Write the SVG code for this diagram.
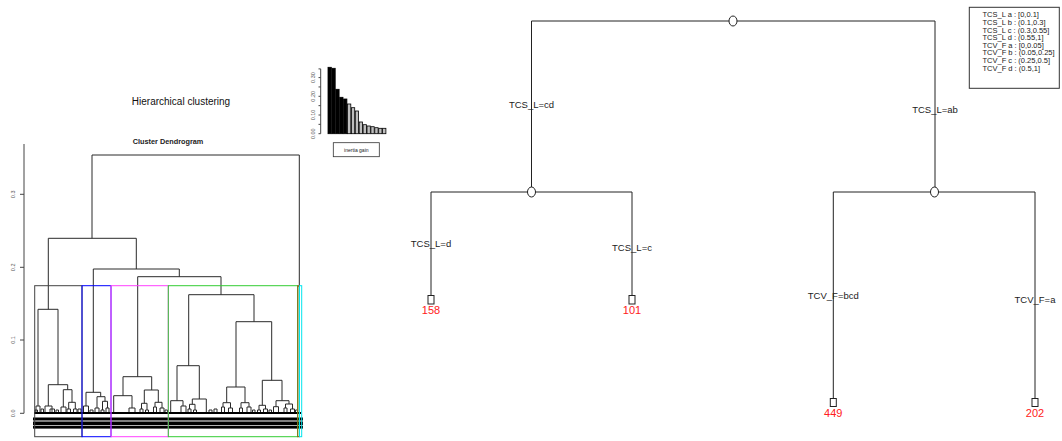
<svg xmlns="http://www.w3.org/2000/svg" width="1062" height="441" viewBox="0 0 1062 441">
<style>
text{font-family:"Liberation Sans",Arial,sans-serif;}
.ln{fill:none;stroke:#222;stroke-width:1;}
.dl{fill:none;stroke:#2a2a2a;stroke-width:1;}
.ax{fill:none;stroke:#444;stroke-width:1;}
.tk{font-size:5.5px;fill:#555;}
.el{font-size:9.5px;fill:#222;text-anchor:middle;}
.lf{font-size:11px;fill:#ff2020;text-anchor:middle;}
.lg{font-size:7.5px;fill:#222;}
.node{fill:#fff;stroke:#222;stroke-width:1;}
</style>
<rect width="1062" height="441" fill="#fff"/>

<g id="left-panel">
<text x="181" y="105" font-size="10" text-anchor="middle" fill="#111">Hierarchical clustering</text>
<text x="168" y="143.5" font-size="7.3" font-weight="bold" text-anchor="middle" fill="#222">Cluster Dendrogram</text>
<g id="dendro-axis">
<path class="ax" d="M24 144V413.3M24 413.3H20M24 340H20M24 267.3H20M24 194.3H20"/>
<text class="tk" transform="translate(15,413.3) rotate(-90)" text-anchor="middle">0.0</text>
<text class="tk" transform="translate(15,340) rotate(-90)" text-anchor="middle">0.1</text>
<text class="tk" transform="translate(15,267.3) rotate(-90)" text-anchor="middle">0.2</text>
<text class="tk" transform="translate(15,194.3) rotate(-90)" text-anchor="middle">0.3</text>
</g>
<g id="dendrogram">
<path class="dl" d="M92 238.3V155H299.3V413
M48.3 309.3V238.3H136.3V269
M93.3 392.3V269H179.3V276.7
M137.7 376.7V276.7H221V294.7
M188.7 365.7V294.7H254V321.7
M236 387V321.7H271.7V380.3
M38 406V309.3H58V384.7
M48.3 406V384.7H67.7V389.7
M63.3 407V389.7H72V402.3
M86 406V392.3H100.7V396.7
M97 408V396.7H105V401.3
M123 395.7V376.7H151.7V390
M113.7 413V395.7H132V408
M144.3 403.3V390H158.3V402.3
M177 400.7V365.7H199.3V399
M170.7 413V400.7H183V406
M192.3 404.3V399H206.3V413
M226.7 402.7V387H245V402.7
M262.3 405.3V380.3H282V400.7M276 406.7V400.7H289V404
M36 413V406H40V413M35 413V410H37.5V413M41 413V409H43.5V413
M45 413V406H52V413M50 413V409H54.5V413M56 413V410H58.5V413
M61 413V407H66V413M68.7 409V402.3H75.3V409M67 413V409H70.5V413M73.5 413V409H77V413M78 413V409H81V413
M83.5 413V406H88.5V413M90 413V410H93V413M95 413V408H99V413
M102.5 410V401.3H107.5V408M101 413V410H104V413M106 413V408H109V413
M129 413V408H135V413
M141.5 409V403.3H147V410M140 413V409H143V413M145.5 413V410H148.5V413
M155 407V402.3H162V408M153.5 413V407H156.5V413M160 413V408H164V413M165 413V410H167.5V413
M181 413V406H186V413
M189.5 409V404.3H195V410M188 413V409H191V413M193.5 413V410H196.5V413
M209 413V410H212V413M214 413V409H217V413
M223 407V402.7H230.5V408M221.5 413V407H224.5V413M228.5 413V408H232.5V413
M241 408V402.7H249V407M239.5 413V408H242.5V413M247 413V407H251V413M252.5 413V410H255V413
M259 410V405.3H265.5V409M257.5 413V410H260.5V413M263.5 413V409H267.5V413M269 413V410H271.5V413
M273.5 413V406.7H278.5V413
M285.5 408V404H292.5V409M284 413V408H287V413M290.5 413V409H294.5V413M295.5 413V410H297.5V413"/>
<path d="M34 413H301" stroke="#000" stroke-width="2"/>
<rect x="33" y="417.5" width="270" height="3" fill="#000"/>
<rect x="33" y="421.5" width="270" height="3.8" fill="#000"/>
<rect x="33" y="426" width="270" height="2.6" fill="#000"/>
</g>
<g id="cluster-boxes" fill="none" stroke-width="1">
<rect x="34.7" y="285.7" width="47.3" height="151" stroke="#444"/>
<rect x="82" y="285.7" width="29" height="151" stroke="#0000ff"/>
<rect x="111" y="285.7" width="57.3" height="151" stroke="#ff40ff"/>
<rect x="168.3" y="285.7" width="129.4" height="151" stroke="#33cc33"/>
<rect x="297.7" y="285.7" width="1.8" height="151" stroke="#8b6914"/>
<rect x="299.5" y="285.7" width="2.2" height="151" stroke="#00e5ee"/>
</g>
<g id="inertia-gain">
<path class="ax" d="M320.7 68.9V133.7M320.7 133.7H318.5M320.7 124.35H318.5M320.7 115H318.5M320.7 105.65H318.5M320.7 96.3H318.5M320.7 86.95H318.5M320.7 77.6H318.5M320.7 68.9H318.5"/>
<text class="tk" transform="translate(315,133.7) rotate(-90)" text-anchor="middle">0.00</text>
<text class="tk" transform="translate(315,115) rotate(-90)" text-anchor="middle">0.10</text>
<text class="tk" transform="translate(315,96.3) rotate(-90)" text-anchor="middle">0.20</text>
<text class="tk" transform="translate(315,77.6) rotate(-90)" text-anchor="middle">0.30</text>
<g stroke="#000" stroke-width="0.8">
<rect x="328" y="67.3" width="3.3" height="66.4" fill="#000"/>
<rect x="331.9" y="68.3" width="3.3" height="65.4" fill="#000"/>
<rect x="335.8" y="89.3" width="3.3" height="44.4" fill="#000"/>
<rect x="339.7" y="97.3" width="3.3" height="36.4" fill="#000"/>
<rect x="343.6" y="99" width="3.3" height="34.7" fill="#000"/>
<rect x="347.5" y="104" width="3.3" height="29.7" fill="#bebebe"/>
<rect x="351.4" y="107.7" width="3.3" height="26" fill="#bebebe"/>
<rect x="355.3" y="111" width="3.3" height="22.7" fill="#bebebe"/>
<rect x="359.2" y="122" width="3.3" height="11.7" fill="#bebebe"/>
<rect x="363.1" y="124.7" width="3.3" height="9" fill="#bebebe"/>
<rect x="367" y="126" width="3.3" height="7.7" fill="#bebebe"/>
<rect x="370.9" y="126.7" width="3.3" height="7" fill="#bebebe"/>
<rect x="374.8" y="127.7" width="3.3" height="6" fill="#bebebe"/>
<rect x="378.7" y="128.3" width="3.3" height="5.4" fill="#bebebe"/>
<rect x="382.6" y="128.3" width="3.3" height="5.4" fill="#bebebe"/>
</g>
<rect x="333.3" y="142.7" width="46" height="14" fill="#fff" stroke="#333" stroke-width="0.8"/>
<text x="356.3" y="151.8" font-size="5" text-anchor="middle" fill="#222">inertia gain</text>
</g>
</g>

<g id="connectors">
<path class="ln" d="M531.5 192V21H935V192"/>
<path class="ln" d="M431 295.5V192H632V295.5"/>
<path class="ln" d="M833.3 398.5V192H1035V398.5"/>
</g>

<g id="node-root"><ellipse class="node" cx="733" cy="21" rx="4" ry="5"/></g>
<g id="node-left"><ellipse class="node" cx="531.5" cy="192" rx="4" ry="5"/></g>
<g id="node-right"><ellipse class="node" cx="934.5" cy="192" rx="4" ry="5"/></g>

<g id="edge-labels">
<text class="el" x="531.5" y="107.5">TCS_L=cd</text>
<text class="el" x="935" y="113">TCS_L=ab</text>
<text class="el" x="431" y="247">TCS_L=d</text>
<text class="el" x="632" y="251">TCS_L=c</text>
<text class="el" x="833.3" y="299">TCV_F=bcd</text>
<text class="el" x="1035" y="303">TCV_F=a</text>
</g>

<g id="leaf-158"><rect x="428" y="295.5" width="6" height="8.5" fill="#fff" stroke="#222"/><text class="lf" x="431" y="314">158</text></g>
<g id="leaf-101"><rect x="629" y="295.5" width="6" height="8.5" fill="#fff" stroke="#222"/><text class="lf" x="632" y="314">101</text></g>
<g id="leaf-449"><rect x="830.3" y="398.5" width="6" height="8" fill="#fff" stroke="#222"/><text class="lf" x="833.3" y="417">449</text></g>
<g id="leaf-202"><rect x="1032" y="398.5" width="6" height="8" fill="#fff" stroke="#222"/><text class="lf" x="1035" y="417">202</text></g>

<g id="legend">
<rect x="969.3" y="7.3" width="90" height="81" fill="#fff" stroke="#333" stroke-width="1"/>
<text class="lg" x="982.5" y="17.2">TCS_L a : [0,0.1]</text>
<text class="lg" x="982.5" y="24.85">TCS_L b : (0.1,0.3]</text>
<text class="lg" x="982.5" y="32.5">TCS_L c : (0.3,0.55]</text>
<text class="lg" x="982.5" y="40.15">TCS_L d : (0.55,1]</text>
<text class="lg" x="982.5" y="47.8">TCV_F a : [0,0.05]</text>
<text class="lg" x="982.5" y="55.45">TCV_F b : (0.05,0.25]</text>
<text class="lg" x="982.5" y="63.1">TCV_F c : (0.25,0.5]</text>
<text class="lg" x="982.5" y="70.75">TCV_F d : (0.5,1]</text>
</g>
</svg>
